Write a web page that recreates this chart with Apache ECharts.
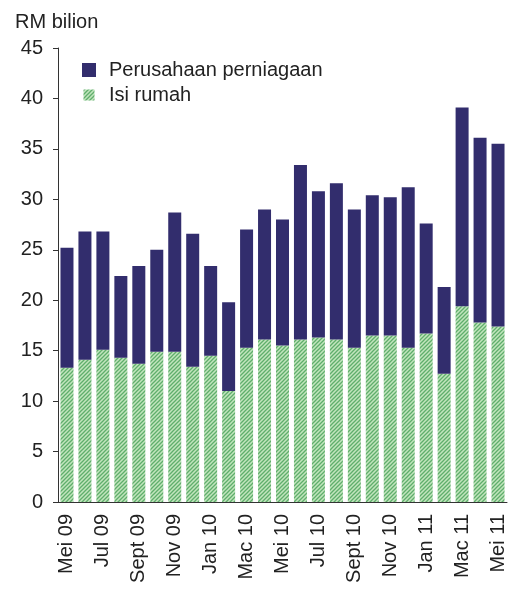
<!DOCTYPE html>
<html>
<head>
<meta charset="utf-8">
<script src="https://cdn.jsdelivr.net/npm/echarts@6/dist/echarts.min.js"></script>
<style>
  html, body { margin: 0; padding: 0; background: #fff; }
  #chart { width: 512px; height: 590px; }
</style>
</head>
<body>
<div id="chart"></div>
<script>
// monthly categories, Mei 2009 .. Mei 2011
const months = [
  'Mei 09', 'Jun 09', 'Jul 09', 'Ogos 09', 'Sept 09', 'Okt 09', 'Nov 09', 'Dis 09',
  'Jan 10', 'Feb 10', 'Mac 10', 'Apr 10', 'Mei 10', 'Jun 10', 'Jul 10', 'Ogos 10',
  'Sept 10', 'Okt 10', 'Nov 10', 'Dis 10', 'Jan 11', 'Feb 11', 'Mac 11', 'Apr 11', 'Mei 11'
];

// RM bilion
const isiRumah = [
  13.3, 14.1, 15.1, 14.3, 13.7, 14.9, 14.9, 13.4, 14.5, 11.0, 15.3, 16.1, 15.5,
  16.1, 16.3, 16.1, 15.3, 16.5, 16.5, 15.3, 16.7, 12.7, 19.4, 17.8, 17.4
];
const perniagaan = [
  11.9, 12.7, 11.7, 8.1, 9.7, 10.1, 13.8, 13.2, 8.9, 8.8, 11.7, 12.9, 12.5,
  17.3, 14.5, 15.5, 13.7, 13.9, 13.7, 15.9, 10.9, 8.6, 19.7, 18.3, 18.1
];

const seriesNames = ['Perusahaan perniagaan', 'Isi rumah'];
const yTicks = { min: 0, max: 45, step: 5 };

// hatched green fill
function hatch() {
  const s = 4;
  const c = document.createElement('canvas');
  c.width = s;
  c.height = s;
  const ctx = c.getContext('2d');
  ctx.fillStyle = '#c2e5bd';
  ctx.fillRect(0, 0, s, s);
  ctx.strokeStyle = '#5fae6c';
  ctx.lineWidth = 1.3;
  ctx.beginPath();
  ctx.moveTo(0, s); ctx.lineTo(s, 0);
  ctx.moveTo(-1, 1); ctx.lineTo(1, -1);
  ctx.moveTo(s - 1, s + 1); ctx.lineTo(s + 1, s - 1);
  ctx.stroke();
  return { image: c, repeat: 'repeat' };
}

const chart = echarts.init(document.getElementById('chart'), null, { renderer: 'canvas' });
const font = 'Liberation Sans, Arial, sans-serif';
const ink = '#222';
const fs = 20;

chart.setOption({
  animation: false,
  textStyle: { fontFamily: font },
  title: {
    text: 'RM bilion',
    left: 10,
    top: 7,
    textStyle: { fontFamily: font, fontSize: fs, fontWeight: 'normal', color: ink }
  },
  legend: {
    data: [
      { name: seriesNames[0], icon: 'rect' },
      // smaller hatched swatch, padded inside a 14x14 box
      { name: seriesNames[1], icon: 'path://M0,0h0.01v0.01h-0.01z M1.5,1.5h11v11h-11z M13.99,13.99h0.01v0.01h-0.01z' }
    ],
    orient: 'vertical',
    left: 77,
    top: 55,
    itemWidth: 14,
    itemHeight: 14,
    itemGap: 5,
    textStyle: { fontFamily: font, fontSize: fs, color: ink, padding: [0, 0, 0, 8] }
  },
  grid: { left: 58, right: 5, top: 48, bottom: 88, containLabel: false },
  xAxis: {
    type: 'category',
    data: months,
    axisLine: { lineStyle: { color: '#333', width: 1 } },
    axisTick: { interval: 1, length: 5, lineStyle: { color: '#333' } },
    axisLabel: {
      interval: 1,
      rotate: 90,
      margin: 12,
      fontFamily: font,
      fontSize: fs,
      color: ink
    }
  },
  yAxis: {
    type: 'value',
    min: yTicks.min,
    max: yTicks.max,
    interval: yTicks.step,
    splitLine: { show: false },
    axisLine: { show: true, lineStyle: { color: '#333', width: 1 } },
    axisTick: { show: true, length: 5, lineStyle: { color: '#333' } },
    axisLabel: { margin: 15, fontFamily: font, fontSize: fs, color: ink }
  },
  series: [
    {
      name: seriesNames[1],
      type: 'bar',
      stack: 'jumlah',
      barWidth: 13,
      data: isiRumah,
      itemStyle: { color: hatch() }
    },
    {
      name: seriesNames[0],
      type: 'bar',
      stack: 'jumlah',
      barWidth: 13,
      data: perniagaan,
      itemStyle: { color: '#322d6d' }
    }
  ]
});
</script>
</body>
</html>
